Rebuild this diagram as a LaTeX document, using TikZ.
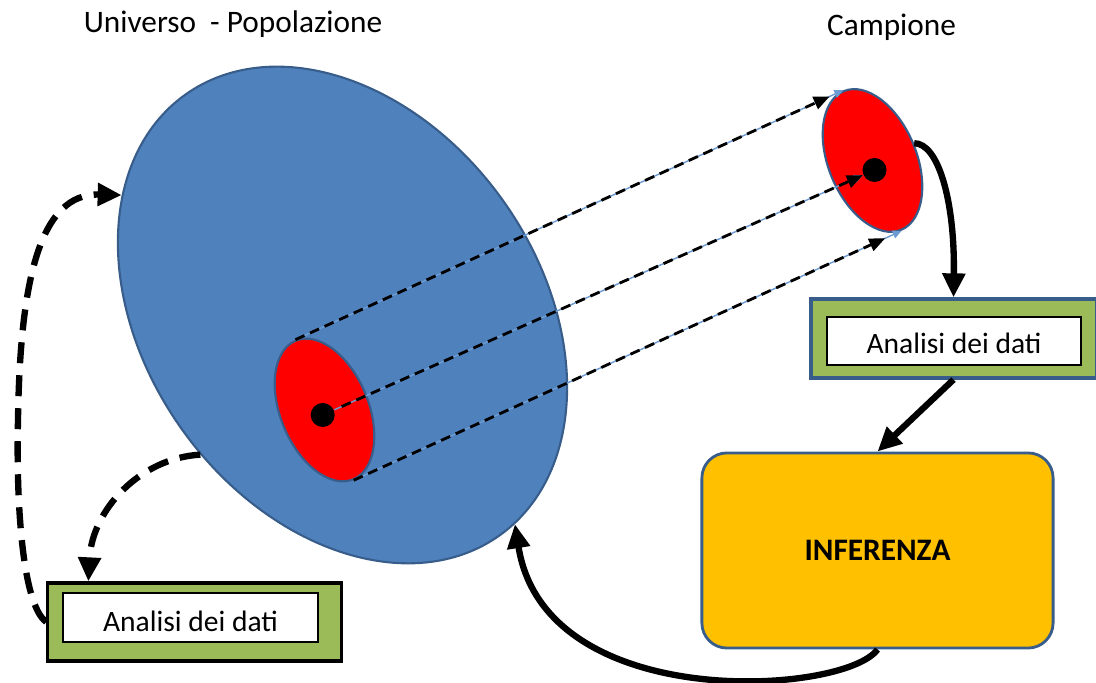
\documentclass[tikz,border=0pt]{standalone}
\usepackage{fontspec}
\setmainfont{Carlito}
\usepackage{tikz}
\usetikzlibrary{arrows.meta,shapes}
\usepackage{xcolor}

\definecolor{popblue}{HTML}{4F81BD}
\definecolor{edgeblue}{HTML}{385D8A}
\definecolor{linkblue}{HTML}{6C9BD2}
\definecolor{boxgreen}{HTML}{9BBB59}
\definecolor{infyellow}{HTML}{FFC000}

\tikzset{
    txt/.style={font=\fontsize{8.9}{10}\selectfont},
    popul/.style={ellipse, draw=edgeblue, line width=0.6pt, inner sep=0pt},
    sample/.style={popul, fill=red, minimum width=1.5cm, minimum height=0.88cm, rotate=112.5},
    dot/.style={circle, fill=black, inner sep=0pt, minimum size=0.24cm},
    greenbox/.style={rectangle, fill=boxgreen, line width=0.9pt, inner sep=0pt},
    whitebox/.style={rectangle, font=\fontsize{8.4}{10}\selectfont, fill=white, draw=black, line width=0.5pt,
        inner sep=0pt, text depth=0pt},
    infer/.style={rectangle, txt, rounded corners=0.25cm, fill=infyellow, draw=edgeblue, line width=0.8pt,
        minimum width=3.51cm, minimum height=1.95cm},
    thinlink/.style={draw=linkblue, line width=0.4pt, -{Triangle[length=0.09cm,width=0.08cm]}},
    sampline/.style={line width=0.8pt, dash pattern=on 0.1cm off 0.06cm, -{Triangle[length=0.16cm,width=0.13cm]}},
    bigarrow/.style={line width=1.8pt, -{Triangle[length=0.24cm,width=0.22cm]}},
    bigdash/.style={line width=1.8pt, dash pattern=on 0.21cm off 0.12cm, -{Triangle[length=0.24cm,width=0.22cm]}}
}

\begin{document}
\begin{tikzpicture}[x=0.01cm,y=-0.01cm]
        \useasboundingbox (0,0) rectangle (1096,683);
        % titles
        \node[txt, anchor=base] (titleU) at (233,33) {Universo\ \ - Popolazione};
        \node[txt, anchor=base] (titleC) at (891.5,36) {Campione};

        % population and the sample inside it
        \node[popul, fill=popblue, minimum width=5.41cm, minimum height=3.94cm, rotate=125.5] (univ) at (342.5,315) {};
        \node[sample] (sampP) at (324.5,410) {};
        \node[dot] (dotP) at (322.7,415) {};

        % sample
        \node[sample] (camp) at (872.5,160.5) {};
        \node[dot] (dotC) at (874.5,170) {};

        % sampling lines
        \draw[thinlink] (sampP.east) -- (camp.east);
        \draw[thinlink] (dotP) -- (dotC);
        \draw[thinlink] (sampP.west) -- (camp.west);
        \draw[sampline, shorten >=0.15cm] (sampP.east) -- (camp.east);
        \draw[sampline, shorten <=0.08cm] (dotP) -- (dotC);
        \draw[sampline, shorten >=0.18cm] (sampP.west) -- (camp.west);

        % analysis of the sample
        \node[greenbox, draw=edgeblue, minimum width=2.85cm, minimum height=0.79cm] (anR) at (953.5,338.5) {};
        \node[whitebox, minimum width=2.54cm, minimum height=0.48cm, text height=0.25cm] (anRin) at (954,341) {Analisi dei dati};

        % inference
        \node[infer] (inf) at (877.5,550.5) {\textbf{INFERENZA}};

        % analysis of the population
        \node[greenbox, draw=black, minimum width=2.93cm, minimum height=0.78cm] (anL) at (194.5,622) {};
        \node[whitebox, minimum width=2.55cm, minimum height=0.49cm, text height=0.28cm] (anLin) at (190.5,617.5) {Analisi dei dati};

        % solid arrows
        \draw[bigarrow] (camp.south) .. controls (938,143) and (955,200) .. (anR.north);
        \draw[bigarrow] (anR.south) -- (inf.north);
        \draw[bigarrow] (inf.south) .. controls (845,695) and (545,715) .. (univ.184);

        % dashed arrows
        \draw[bigdash] (anL.west) .. controls (22,605) and (16,500) .. (18,420)
            .. controls (20,280) and (40,193) .. (univ.26);
        \draw[bigdash] (univ.99) .. controls (140,458) and (92,510) .. ([xshift=0.42cm]anL.north west);
\end{tikzpicture}
\end{document}
